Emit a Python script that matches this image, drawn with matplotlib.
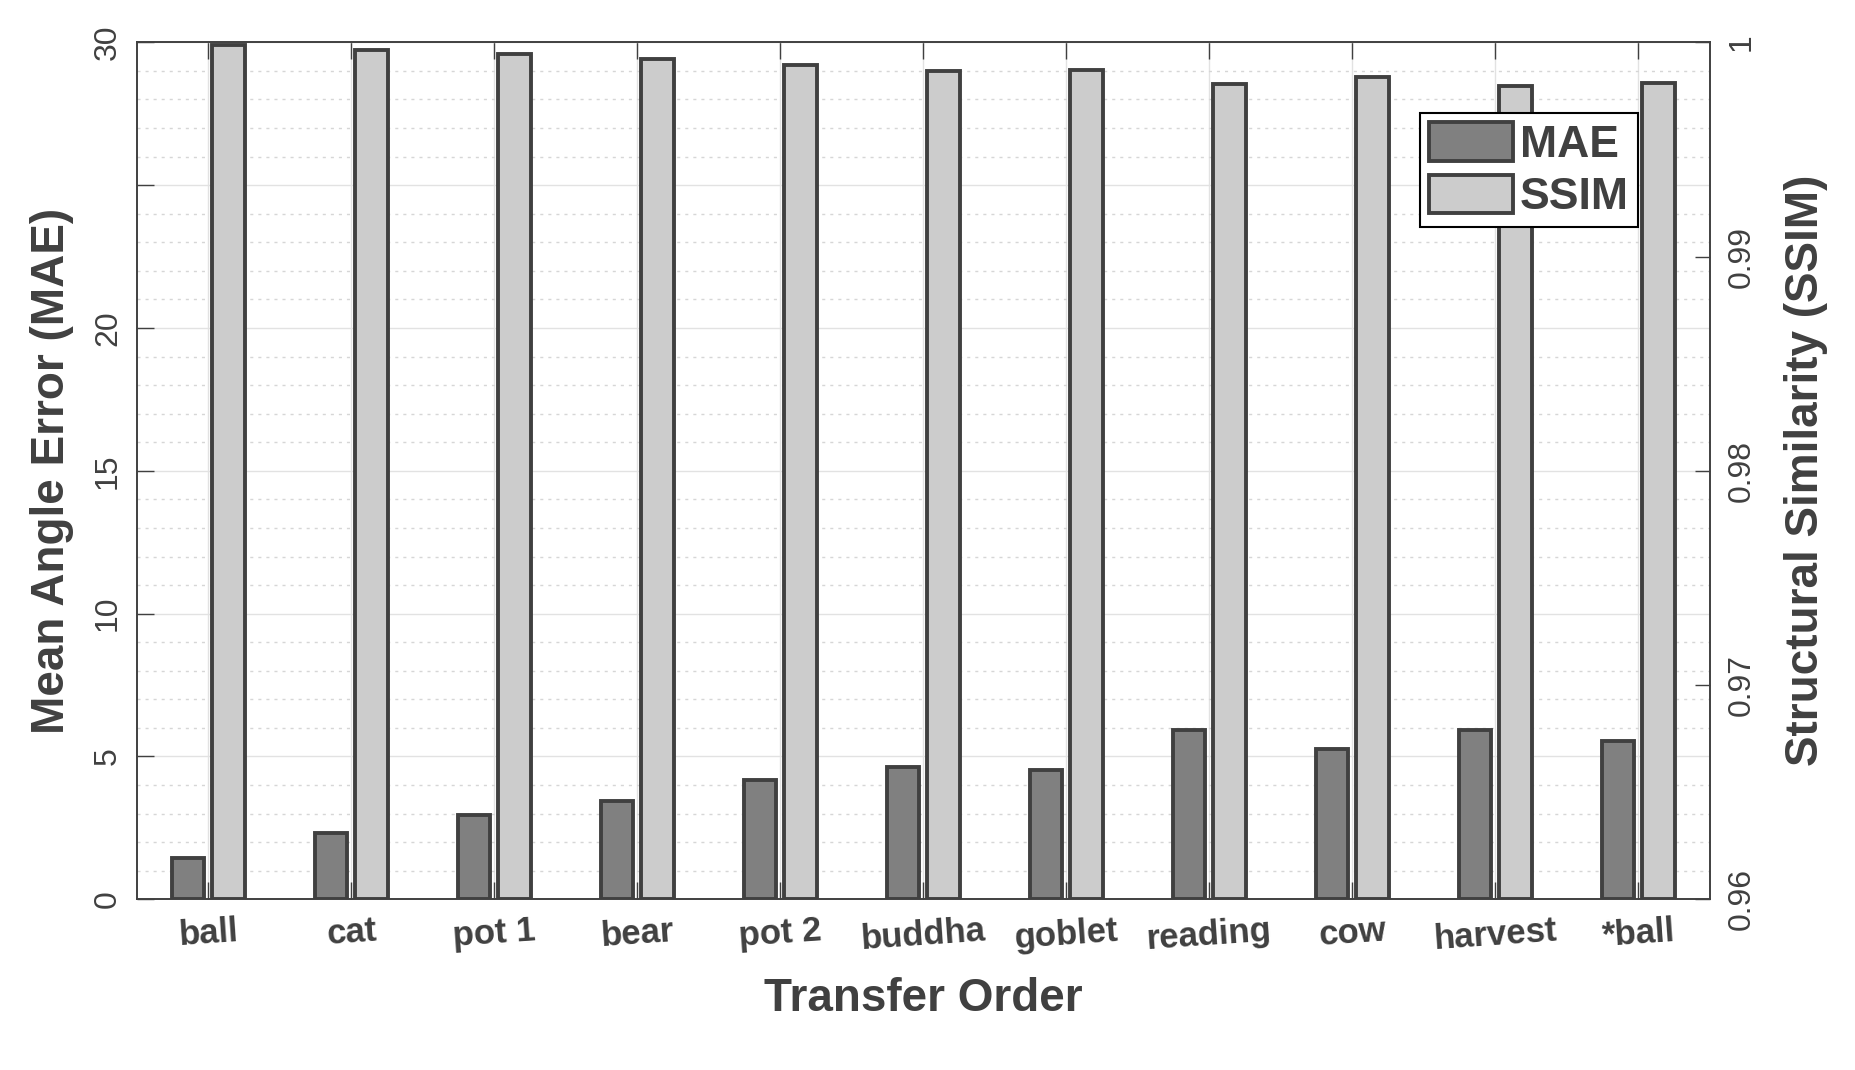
import numpy as np
import matplotlib
matplotlib.use("Agg")
import matplotlib.pyplot as plt
from matplotlib.ticker import MultipleLocator

# ── Data ──────────────────────────────────────────────────────────────────────
objects = ["ball", "cat", "pot 1", "bear", "pot 2", "buddha",
           "goblet", "reading", "cow", "harvest", "*ball"]
mae  = [1.46, 2.33, 2.96, 3.45, 4.18, 4.64, 4.53, 5.93, 5.27, 5.93, 5.55]
ssim = [0.99985, 0.99966, 0.99943, 0.99924, 0.99892, 0.99864,
        0.99872, 0.99803, 0.99836, 0.99798, 0.99811]

mae_ticks  = [0, 5, 10, 15, 20, 25, 30]
mae_labels = ["0", "5", "10", "15", "20", "", "30"]
ssim_ticks = [0.96, 0.97, 0.98, 0.99, 1.0]
ssim_labels = ["0.96", "0.97", "0.98", "0.99", "1"]

# ── Style ─────────────────────────────────────────────────────────────────────
INK = "#404040"
plt.rcParams["font.family"] = ["Liberation Sans", "DejaVu Sans"]
plt.rcParams["text.color"] = INK
plt.rcParams["axes.labelcolor"] = INK

fig = plt.figure(figsize=(18.56, 10.70), dpi=100)
ax = fig.add_axes([0.0738, 0.1595, 0.8475, 0.801])
ax2 = ax.twinx()

x = np.arange(1, len(objects) + 1)
w = 0.23
b1 = ax.bar(x - 0.143, mae, w, color="#808080", edgecolor=INK,
            linewidth=2.8, zorder=3)
b2 = ax2.bar(x + 0.143, np.array(ssim) - 0.96, w, bottom=0.96,
             color="#cccccc", edgecolor=INK, linewidth=2.8, zorder=3)

# left axis
ax.set_xlim(0.5, len(objects) + 0.5)
ax.set_ylim(0, 30)
ax.set_yticks(mae_ticks)
ax.set_yticklabels(mae_labels, rotation=90, va="center", fontsize=23)
ax.yaxis.set_minor_locator(MultipleLocator(1))
ax.set_xticks(x)
ax.set_xticklabels(objects, rotation=4, fontsize=25, fontweight="bold")
ax.tick_params(axis="both", which="major", direction="in", length=12,
               width=1, colors=INK)
ax.tick_params(axis="x", top=True, pad=11)
ax.tick_params(axis="y", pad=10)
ax.tick_params(axis="y", which="minor", length=0)
ax.set_axisbelow(True)
ax.grid(True, which="major", color="#e2e2e2", lw=1)
ax.grid(True, which="minor", axis="y", color="#d6d6d6", lw=1,
        linestyle=(0, (2.2, 3.6)))

ax.set_xlabel("Transfer Order", fontsize=33, fontweight="bold", labelpad=15)
ax.set_ylabel("Mean Angle Error (MAE)", fontsize=33, fontweight="bold",
              labelpad=14)

# right axis
ax2.set_ylim(0.96, 1.0)
ax2.set_yticks(ssim_ticks)
ax2.set_yticklabels(ssim_labels, rotation=90, va="center", fontsize=23)
ax2.tick_params(axis="y", direction="in", length=11, width=1, colors=INK,
                pad=12)
ax2.set_ylabel("Structural Similarity (SSIM)", fontsize=33,
               fontweight="bold", labelpad=20)

for a in (ax, ax2):
    for s in a.spines.values():
        s.set_color(INK)
        s.set_linewidth(1.2)

leg = ax2.legend([b1, b2], ["MAE", "SSIM"], loc="upper right",
                 bbox_to_anchor=(0.954, 0.917), borderaxespad=0,
                 prop={"size": 32, "weight": "bold"},
                 handlelength=1.9, handleheight=0.95, labelspacing=0.2,
                 handletextpad=0.15, borderpad=0.2, fancybox=False,
                 framealpha=1, edgecolor="black")
leg.get_frame().set_linewidth(1.5)

fig.savefig("out.png", dpi=100)
